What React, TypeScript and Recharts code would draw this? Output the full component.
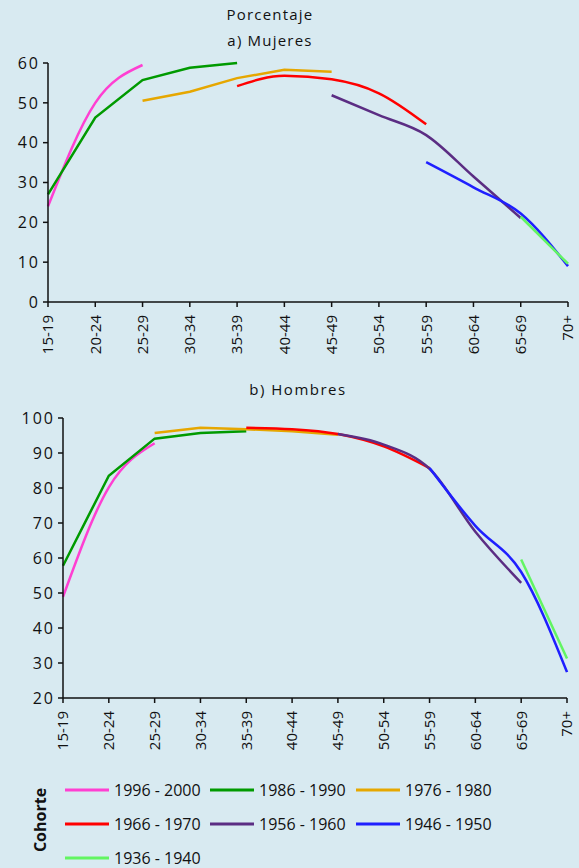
import { LineChart, Line, XAxis, YAxis } from "recharts";

const ageGroups = [
  "15-19", "20-24", "25-29", "30-34", "35-39", "40-44",
  "45-49", "50-54", "55-59", "60-64", "65-69", "70+",
];

const cohorts = [
  "1996 - 2000", "1986 - 1990", "1976 - 1980", "1966 - 1970",
  "1956 - 1960", "1946 - 1950", "1936 - 1940",
];
const cohortColors = ["#ff3fd2", "#009a00", "#e6a700", "#ff0000", "#5b2d83", "#1f1fff", "#62f562"];
const cohortCurves = ["monotone", "linear", "linear", "monotone", "monotone", "monotone", "linear"] as const;

// a) Mujeres, % by age group (null = cohort not observed)
const mujeres1996 = [24, 50, 59.5, null, null, null, null, null, null, null, null, null];
const mujeres1986 = [27, 46.3, 55.7, 58.8, 60, null, null, null, null, null, null, null];
const mujeres1976 = [null, null, 50.5, 52.8, 56.2, 58.3, 57.8, null, null, null, null, null];
const mujeres1966 = [null, null, null, null, 54.2, 56.8, 55.9, 52.4, 44.6, null, null, null];
const mujeres1956 = [null, null, null, null, null, null, 51.9, 46.9, 41.9, 31.5, 21.1, null];
const mujeres1946 = [null, null, null, null, null, null, null, null, 35.1, 28.8, 22.2, 9];
const mujeres1936 = [null, null, null, null, null, null, null, null, null, null, 21.4, 9.6];

// b) Hombres
const hombres1996 = [48.9, 80.2, 92.8, null, null, null, null, null, null, null, null, null];
const hombres1986 = [57.8, 83.5, 94.1, 95.7, 96.2, null, null, null, null, null, null, null];
const hombres1976 = [null, null, 95.7, 97.2, 96.8, 96.2, 95.2, null, null, null, null, null];
const hombres1966 = [null, null, null, null, 97.2, 96.8, 95.4, 91.9, 85.7, null, null, null];
const hombres1956 = [null, null, null, null, null, null, 95.4, 92.4, 85.5, 67.5, 52.9, null];
const hombres1946 = [null, null, null, null, null, null, null, null, 85.7, 69.2, 56, 27.4];
const hombres1936 = [null, null, null, null, null, null, null, null, null, null, 59.6, 31.3];

const mujeresTicks = [0, 10, 20, 30, 40, 50, 60];
const hombresTicks = [20, 30, 40, 50, 60, 70, 80, 90, 100];

const mujeres = [mujeres1996, mujeres1986, mujeres1976, mujeres1966, mujeres1956, mujeres1946, mujeres1936];
const hombres = [hombres1996, hombres1986, hombres1976, hombres1966, hombres1956, hombres1946, hombres1936];

const BG = "#d8eaf1";
const INK = "#111";
const FONT = "'Open Sans', sans-serif";

function buildRows(series: (number | null)[][]) {
  return ageGroups.map((g, i) => {
    const row: Record<string, any> = { group: g };
    series.forEach((s, k) => {
      row["c" + k] = s[i];
    });
    return row;
  });
}

const YTick = (props: any) => {
  const { x, y, payload } = props;
  return (
    <text x={x} y={y} textAnchor="end" dy="0.36em" fill={INK} fontSize={16} letterSpacing={2} fontFamily={FONT}>
      {payload.value}
    </text>
  );
};

const XTick = (props: any) => {
  const { x, y, payload } = props;
  return (
    <text
      x={x}
      y={y}
      transform={`rotate(-90, ${x}, ${y})`}
      textAnchor="end"
      dy="0.36em"
      fill={INK}
      fontSize={15}
      fontFamily={FONT}
    >
      {payload.value}
    </text>
  );
};

function Panel({
  series,
  ticks,
  height,
  margin,
  yWidth,
}: {
  series: (number | null)[][];
  ticks: number[];
  height: number;
  margin: { top: number; right: number; bottom: number; left: number };
  yWidth: number;
}) {
  const rows = buildRows(series);
  return (
    <LineChart width={579} height={height} data={rows} margin={margin}>
      <XAxis
        dataKey="group"
        interval={0}
        height={56}
        tick={<XTick />}
        tickSize={5}
        tickMargin={8}
        stroke="#111"
        strokeWidth={1.5}
        tickLine={{ stroke: "#111", strokeWidth: 1.5 }}
      />
      <YAxis
        width={yWidth}
        domain={[ticks[0], ticks[ticks.length - 1]]}
        ticks={ticks}
        interval={0}
        tick={<YTick />}
        tickSize={5}
        tickMargin={3}
        stroke="#111"
        strokeWidth={1.5}
        tickLine={{ stroke: "#111", strokeWidth: 1.5 }}
      />
      {cohorts.map((c, k) => (
        <Line
          key={c}
          dataKey={"c" + k}
          name={c}
          type={cohortCurves[k]}
          stroke={cohortColors[k]}
          strokeWidth={2.5}
          dot={false}
          activeDot={false}
          isAnimationActive={false}
        />
      ))}
    </LineChart>
  );
}

export default function App() {
  return (
    <div
      style={{
        position: "fixed",
        left: 0,
        top: 0,
        width: 579,
        height: 868,
        background: BG,
        overflow: "hidden",
        fontFamily: FONT,
      }}
    >
      <svg width={579} height={868} style={{ position: "absolute", left: 0, top: 0 }}>
        <text x={270} y={15} textAnchor="middle" dy="0.36em" fontSize={15} letterSpacing={1.2} fill={INK}>
          Porcentaje
        </text>
        <text x={270} y={41} textAnchor="middle" dy="0.36em" fontSize={15} letterSpacing={1.2} fill={INK}>
          a) Mujeres
        </text>
        <text x={298} y={390} textAnchor="middle" dy="0.36em" fontSize={15} letterSpacing={1.5} fill={INK}>
          b) Hombres
        </text>
        <text
          x={40}
          y={820}
          transform="rotate(-90, 40, 820)"
          textAnchor="middle"
          dy="0.36em"
          fontSize={16}
          fontWeight="bold"
          fill={INK}
        >
          Cohorte
        </text>
        {cohorts.map((c, k) => {
          const col = k % 3;
          const row = Math.floor(k / 3);
          const lx = [65, 210, 356][col];
          const ly = 790 + row * 34;
          return (
            <g key={c}>
              <line x1={lx} x2={lx + 44} y1={ly} y2={ly} stroke={cohortColors[k]} strokeWidth={3} />
              <text x={lx + 49} y={ly} dy="0.36em" fontSize={16} fill={INK}>
                {c}
              </text>
            </g>
          );
        })}
      </svg>
      <div style={{ position: "absolute", left: 0, top: 0 }}>
        <Panel series={mujeres} ticks={mujeresTicks} height={360} margin={{ top: 63, right: 11, bottom: 2, left: 0 }} yWidth={48} />
      </div>
      <div style={{ position: "absolute", left: 0, top: 360 }}>
        <Panel series={hombres} ticks={hombresTicks} height={400} margin={{ top: 58, right: 12, bottom: 6, left: 0 }} yWidth={63} />
      </div>
    </div>
  );
}
